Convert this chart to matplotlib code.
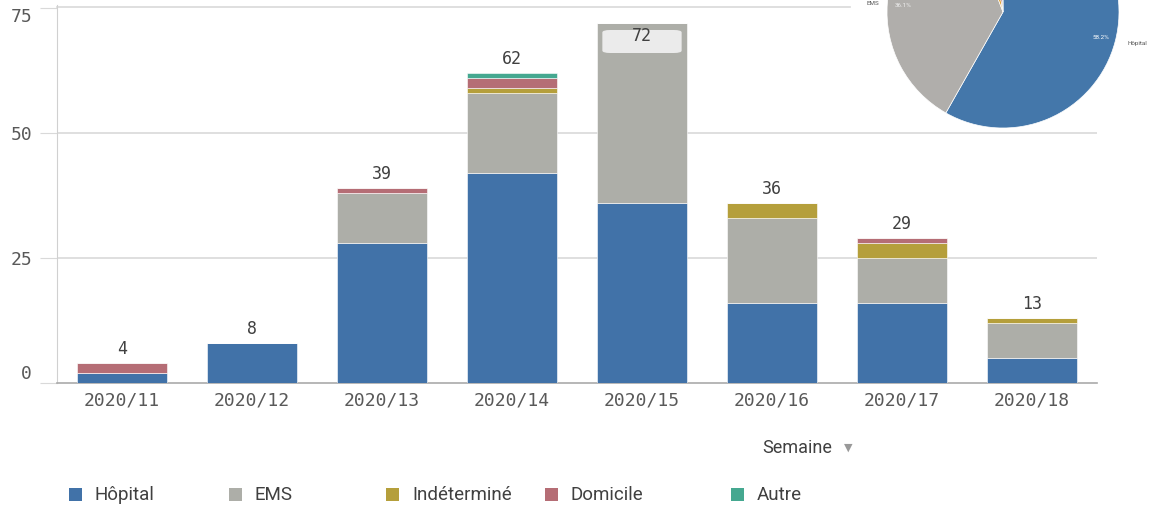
import matplotlib.pyplot as plt
from matplotlib.patches import FancyBboxPatch
import numpy as np

weeks = ["2020/11", "2020/12", "2020/13", "2020/14", "2020/15", "2020/16", "2020/17", "2020/18"]
hopital = [2, 8, 28, 42, 36, 16, 16, 5]
ems = [0, 0, 10, 16, 36, 17, 9, 7]
indetermine = [0, 0, 0, 1, 0, 3, 3, 1]
domicile = [2, 0, 1, 2, 0, 0, 1, 0]
autre = [0, 0, 0, 1, 0, 0, 0, 0]

series_names = ["Hôpital", "EMS", "Indéterminé", "Domicile", "Autre"]
series_colors = ["#4172a8", "#adaea8", "#b59f3b", "#b56d75", "#45a890"]

# pie shares (percent), same categories
pie_values = [58.2, 36.1, 3.0, 2.3, 0.4]

mono = "DejaVu Sans Mono"
plt.rcParams['font.family'] = ['Roboto', 'DejaVu Sans']

fig = plt.figure(figsize=(11.51, 5.09), dpi=100)
ax = fig.add_axes([57/1151, 1 - 383/509, 1040/1151, 378/509])

x = np.arange(len(weeks))
series = [hopital, ems, indetermine, domicile, autre]
bottom = np.zeros(len(weeks))
for vals, name, col in zip(series, series_names, series_colors):
    ax.bar(x, vals, 0.69, bottom=bottom, color=col, label=name, zorder=3,
           edgecolor="white", linewidth=0.4)
    bottom += np.array(vals)

totals = bottom
for xi, t in zip(x, totals):
    if t > 70:
        # label that does not fit above the bar goes inside, on a light box
        box = FancyBboxPatch((xi - 0.305, t - 6.0), 0.61, 4.6,
                             boxstyle="round,pad=0,rounding_size=0.06",
                             mutation_aspect=8, facecolor="#ebebeb",
                             edgecolor="none", zorder=4)
        ax.add_patch(box)
        ax.text(xi, t - 2.6, f"{int(t)}", ha="center", va="center",
                fontsize=12, color="#404040", family=mono, zorder=5)
    else:
        ax.text(xi, t + 2.8, f"{int(t)}", ha="center", va="center",
                fontsize=12, color="#404040", family=mono, zorder=5)

ax.set_xlim(-0.5, 7.5)
ax.set_ylim(0, 75.6)
ax.set_yticks([0, 25, 50, 75])
ax.set_yticklabels(["0", "25", "50", "75"], family=mono, fontsize=13, color="#595959")
ylabels = ax.get_yticklabels()
ylabels[0].set_va("bottom")
ylabels[-1].set_va("top")
ax.set_xticks(x)
ax.set_xticklabels(weeks, family=mono, fontsize=13, color="#595959")
ax.tick_params(axis="x", length=0, pad=6)
ax.tick_params(axis="y", length=12, color="#d9d9d9", pad=6)
for yv in [25, 50]:
    ax.axhline(yv, color="#d9d9d9", lw=1.2, zorder=1)
ax.plot([-0.5, 5.6], [75.3, 75.3], color="#d9d9d9", lw=1.2, zorder=1, clip_on=False)
for s in ["top", "right"]:
    ax.spines[s].set_visible(False)
ax.spines["left"].set_color("#d0d0d0")
ax.spines["bottom"].set_color("#aaaaaa")
ax.spines["bottom"].set_linewidth(1.2)

# pie inset, partly cut off at the top
pax = fig.add_axes([887/1151, 1 - 128/509, 232/1151, 232/509])
pie_colors = ["#4477aa", "#b0aeab", "#e0a030", "#b56d75", "#45a890"]
pax.pie(pie_values, colors=pie_colors, startangle=90, counterclock=False,
        radius=1, wedgeprops=dict(edgecolor="white", linewidth=0.5))
pax.set_xlim(-1, 1)
pax.set_ylim(-1, 1)
pax.set_aspect("equal")
pax.axis("off")
pax.text(0.84, -0.22, "58.2%", fontsize=4.5, color="white", ha="center", va="center")
pax.text(1.16, -0.27, "Hôpital", fontsize=4.5, color="#555555", ha="center", va="center",
         clip_on=False)
pax.text(-0.86, 0.06, "36.1%", fontsize=4.5, color="#f0f0f0", ha="center", va="center")
pax.text(-1.12, 0.07, "EMS", fontsize=4.5, color="#555555", ha="center", va="center",
         clip_on=False)

# axis title
fig.text(762/1151, 1 - 448/509, "Semaine", fontsize=13, color="#404040", va="center")
fig.text(848/1151, 1 - 448/509, "▼", fontsize=8, color="#999999", va="center", ha="center")

# legend
leg_x = [75, 235, 392, 551, 737]
for lx, name, col in zip(leg_x, series_names, series_colors):
    fig.patches.append(plt.Rectangle((lx/1151 - 6/1151, 1 - 501/509), 13/1151, 13/509,
                                     transform=fig.transFigure, facecolor=col,
                                     edgecolor="none"))
    fig.text(lx/1151 + 20/1151, 1 - 495/509, name, fontsize=13.5, color="#404040", va="center")

fig.savefig("out.png", dpi=100)
